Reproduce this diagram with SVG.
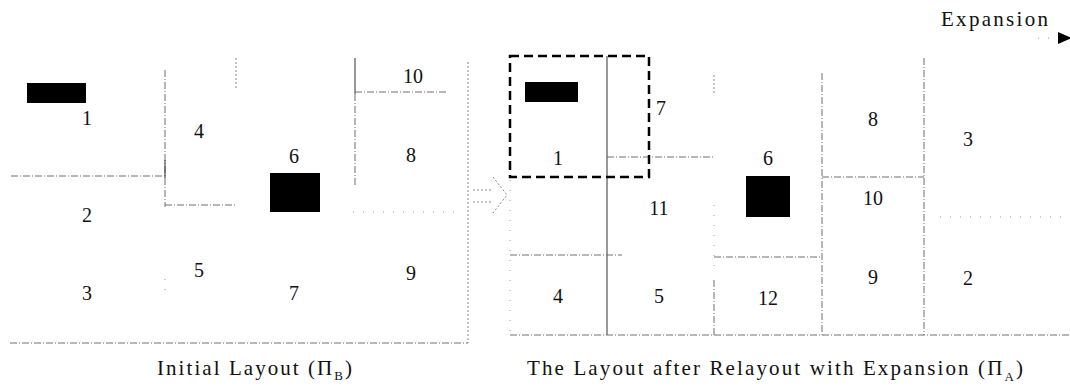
<svg xmlns="http://www.w3.org/2000/svg" width="1070" height="389" viewBox="0 0 1070 389">
<style>
.bg{fill:#fff}
.dd{fill:none;stroke:#6e6e6e;stroke-width:1;stroke-dasharray:7 2 1 2}
.dt{fill:none;stroke:#8a8a8a;stroke-width:1;stroke-dasharray:2 2}
.sp{fill:none;stroke:#9a9a9a;stroke-width:1;stroke-dasharray:1 9}
.solid{fill:none;stroke:#333;stroke-width:1}
.num{font-family:"Liberation Serif","Times New Roman",serif;font-size:20px;fill:#111;text-anchor:middle}
.cap{font-family:"Liberation Serif","Times New Roman",serif;font-size:21px;fill:#111}
.blk{fill:#000}
.sel{fill:none;stroke:#000;stroke-width:2.5;stroke-dasharray:9 5}
</style>
<rect class="bg" x="0" y="0" width="1070" height="389"/>

<!-- Left panel: Initial layout -->
<g id="initial-layout">
  <g id="L-lines">
    <line class="dd" x1="11" y1="176" x2="165" y2="176"/>
    <line class="dd" x1="165" y1="70" x2="165" y2="207"/>
    <line class="solid" x1="165" y1="160" x2="165" y2="178"/>
    <line class="sp" x1="165" y1="279" x2="165" y2="292"/>
    <line class="dd" x1="165" y1="205" x2="236" y2="205"/>
    <line class="dt" x1="236" y1="58" x2="236" y2="90"/>
    <line class="solid" x1="355" y1="58" x2="355" y2="94"/>
    <line class="dd" x1="355" y1="94" x2="355" y2="186"/>
    <line class="dd" x1="355" y1="92" x2="448" y2="92"/>
    <line class="sp" x1="353" y1="212" x2="456" y2="212"/>
    <line class="dt" x1="468" y1="62" x2="468" y2="343"/>
    <line class="dd" x1="10" y1="343" x2="468" y2="343"/>
  </g>
  <g id="L-node-1"><rect class="blk" x="27" y="83" width="59" height="20"/><text class="num" x="87" y="125">1</text></g>
  <g id="L-node-2"><text class="num" x="87" y="222">2</text></g>
  <g id="L-node-3"><text class="num" x="87" y="300">3</text></g>
  <g id="L-node-4"><text class="num" x="199" y="138">4</text></g>
  <g id="L-node-5"><text class="num" x="199" y="277">5</text></g>
  <g id="L-node-6"><text class="num" x="294" y="163">6</text><rect class="blk" x="270" y="173" width="50" height="39"/></g>
  <g id="L-node-7"><text class="num" x="294" y="300">7</text></g>
  <g id="L-node-8"><text class="num" x="411" y="162">8</text></g>
  <g id="L-node-9"><text class="num" x="411" y="280">9</text></g>
  <g id="L-node-10"><text class="num" x="413" y="83">10</text></g>
</g>

<!-- Right panel: layout after relayout with expansion -->
<g id="relayout">
  <g id="R-lines">
    <line class="solid" x1="607" y1="56" x2="607" y2="335"/>
    <line class="dd" x1="607" y1="157" x2="714" y2="157"/>
    <line class="sp" x1="510" y1="180" x2="510" y2="335"/>
    <line class="dd" x1="510" y1="255" x2="622" y2="255"/>
    <line class="dt" x1="714" y1="75" x2="714" y2="95"/>
    <line class="sp" x1="714" y1="205" x2="714" y2="272"/>
    <line class="dd" x1="714" y1="280" x2="714" y2="335"/>
    <line class="dd" x1="714" y1="257" x2="822" y2="257"/>
    <line class="dd" x1="822" y1="73" x2="822" y2="335"/>
    <line class="dd" x1="822" y1="177" x2="924" y2="177"/>
    <line class="dd" x1="924" y1="58" x2="924" y2="335"/>
    <line class="sp" x1="940" y1="217" x2="1070" y2="217"/>
    <line class="dd" x1="510" y1="335" x2="1070" y2="335"/>
  </g>
  <g id="R-selection"><rect class="sel" x="510" y="56" width="139" height="121"/></g>
  <g id="R-node-1"><rect class="blk" x="525" y="82" width="53" height="20"/><text class="num" x="558" y="165">1</text></g>
  <g id="R-node-7"><text class="num" x="661" y="115">7</text></g>
  <g id="R-node-11"><text class="num" x="659" y="215">11</text></g>
  <g id="R-node-6"><text class="num" x="768" y="165">6</text><rect class="blk" x="746" y="176" width="44" height="41"/></g>
  <g id="R-node-4"><text class="num" x="558" y="303">4</text></g>
  <g id="R-node-5"><text class="num" x="659" y="303">5</text></g>
  <g id="R-node-12"><text class="num" x="768" y="305">12</text></g>
  <g id="R-node-8"><text class="num" x="873" y="126">8</text></g>
  <g id="R-node-10"><text class="num" x="873" y="205">10</text></g>
  <g id="R-node-9"><text class="num" x="873" y="284">9</text></g>
  <g id="R-node-3"><text class="num" x="968" y="146">3</text></g>
  <g id="R-node-2"><text class="num" x="968" y="285">2</text></g>
</g>

<!-- Connectors -->
<g id="connectors">
  <g id="relayout-arrow">
    <line class="dt" x1="473" y1="190" x2="492" y2="190"/>
    <line class="dt" x1="473" y1="202" x2="492" y2="202"/>
    <polyline class="dt" points="493,177 507,195 493,213"/>
  </g>
  <g id="expansion-arrow">
    <line class="sp" x1="1038" y1="38" x2="1058" y2="38"/>
    <polygon class="blk" points="1058,32 1072,38 1058,44"/>
  </g>
</g>

<g id="labels">
  <text class="cap" x="941" y="26" textLength="107" lengthAdjust="spacing">Expansion</text>
  <text class="cap" x="157" y="375" textLength="195" lengthAdjust="spacing">Initial Layout (Π<tspan font-size="13" dy="5">B</tspan><tspan dy="-5">)</tspan></text>
  <text class="cap" x="527" y="375" textLength="496" lengthAdjust="spacing">The Layout after Relayout with Expansion (Π<tspan font-size="13" dy="6">A</tspan><tspan dy="-6">)</tspan></text>
</g>
</svg>
